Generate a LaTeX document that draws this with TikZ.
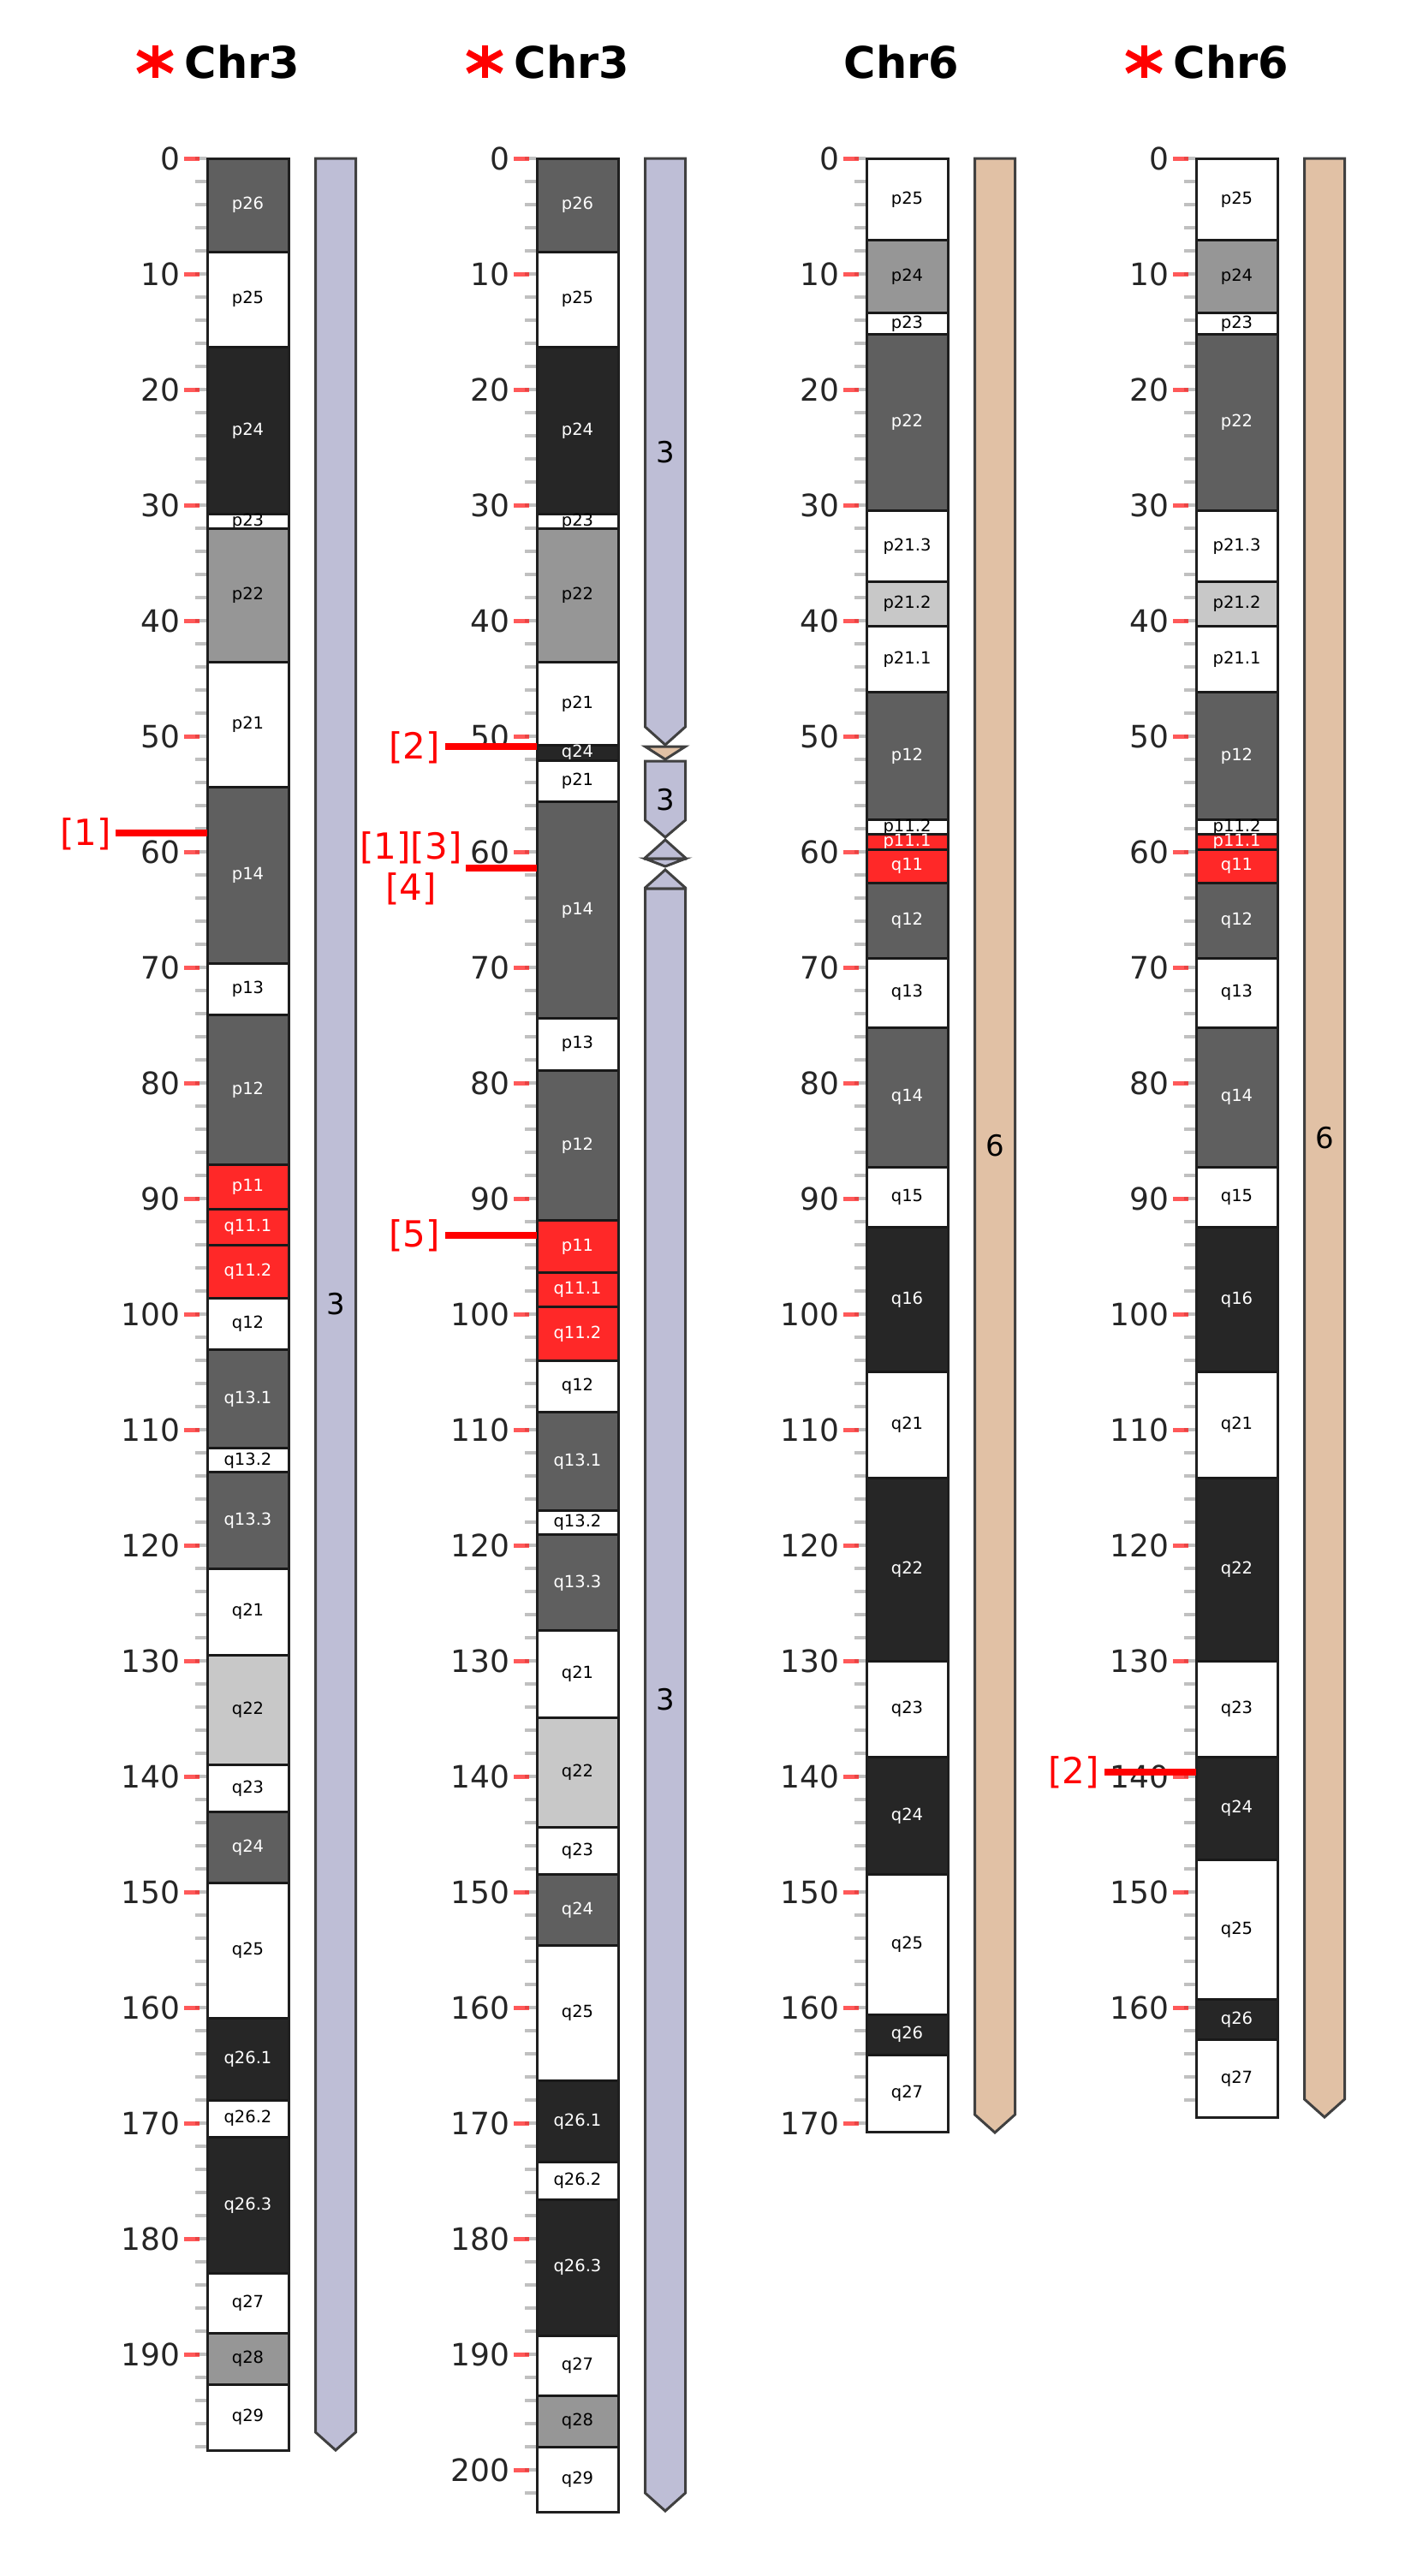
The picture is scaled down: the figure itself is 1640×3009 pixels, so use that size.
\documentclass[tikz,border=0pt]{standalone}
\usepackage{fontspec}
\setmainfont{DejaVu Sans}
\definecolor{gD}{RGB}{95,95,95}
\definecolor{gB}{RGB}{38,38,38}
\definecolor{gM}{RGB}{150,150,150}
\definecolor{gL}{RGB}{200,200,200}
\definecolor{acen}{RGB}{255,40,40}
\definecolor{lav}{RGB}{190,190,214}
\definecolor{tan6}{RGB}{225,193,165}
\definecolor{barstroke}{RGB}{64,64,64}
\definecolor{ticktxt}{RGB}{38,38,38}
\definecolor{minorgray}{RGB}{192,192,192}
\begin{document}
\begin{tikzpicture}[x=0.5pt,y=-0.5pt,
  bandrect/.style={draw=black!90,line width=1.5pt},
  boxline/.style={draw=black!88,line width=1.5pt},
  barline/.style={draw=barstroke,line width=1.5pt,line join=miter},
  bandlbl/.style={font=\fontsize{9.75pt}{10pt}\selectfont,inner sep=0pt},
  ticklbl/.style={font=\fontsize{18pt}{18pt}\selectfont,text=ticktxt,anchor=east,inner sep=0pt},
  minortick/.style={draw=minorgray,line width=2pt},
  majortick/.style={draw=red,opacity=0.65,line width=2.5pt},
  evline/.style={draw=red,line width=4pt},
  evlbl/.style={font=\fontsize{21pt}{24pt}\selectfont,text=red,inner sep=0pt},
  titlelbl/.style={font=\fontsize{25.5pt}{26pt}\selectfont\bfseries,inner sep=0pt,anchor=base},
  barlbl/.style={font=\fontsize{17pt}{17pt}\selectfont,inner sep=0pt},
  astk/.style={draw=red,line width=3.5pt}]
\useasboundingbox (0,0) rectangle (1640,3009);
\fill[white] (0,0) rectangle (1640,3009);

% ---------- titles ----------
\foreach \dx/\nm/\st [count=\i] in {0/Chr3/1,385/Chr3/1,770/Chr6/0,1155/Chr6/1}{
  \node[titlelbl] (T\i) at (283+\dx,91) {\nm};
  \ifnum\st=1
    \draw[astk] (181+\dx,53) -- (181+\dx,91);
    \draw[astk] (161+\dx,61) -- (201+\dx,83);
    \draw[astk] (161+\dx,83) -- (201+\dx,61);
  \fi
}

% ---------- ticks ----------
\foreach \dx/\len/\maj in {0/198/190,385/202/200,770/170/170,1155/168/160}{
  \foreach \v in {0,2,...,\len}{
    \draw[minortick] (228+\dx,{185+13.5*\v}) -- (241+\dx,{185+13.5*\v});
  }
  \foreach \v in {0,10,...,\maj}{
    \draw[majortick] (215+\dx,{185+13.5*\v}) -- (233+\dx,{185+13.5*\v});
    \node[ticklbl] at (211+\dx,{185+13.5*\v}) {\v};
  }
}

% ---------- panel 1 : Chr3 ----------
\def\dx{0}
\foreach \ya/\yb/\fc/\tc/\lb [count=\i] in {
0/8.1/gD/white/p26, 8.1/16.3/white/black/p25, 16.3/30.8/gB/white/p24,
30.8/32.0/white/black/p23, 32.0/43.6/gM/black/p22, 43.6/54.4/white/black/p21,
54.4/69.7/gD/white/p14, 69.7/74.1/white/black/p13, 74.1/87.1/gD/white/p12,
87.1/90.9/acen/white/p11, 90.9/94.0/acen/white/q11.1, 94.0/98.6/acen/white/q11.2,
98.6/103.1/white/black/q12, 103.1/111.6/gD/white/q13.1, 111.6/113.7/white/black/q13.2,
113.7/122.0/gD/white/q13.3, 122.0/129.5/white/black/q21, 129.5/139.0/gL/black/q22,
139.0/143.1/white/black/q23, 143.1/149.2/gD/white/q24, 149.2/160.9/white/black/q25,
160.9/168.0/gB/white/q26.1, 168.0/171.2/white/black/q26.2, 171.2/183.0/gB/white/q26.3,
183.0/188.2/white/black/q27, 188.2/192.6/gM/black/q28, 192.6/198.3/white/black/q29}{
  \draw[bandrect,fill=\fc] (242+\dx,{185+13.5*\ya}) rectangle (337+\dx,{185+13.5*\yb});
  \node[bandlbl,text=\tc] (Aa\i) at (289.5+\dx,{185+13.5*(\ya+\yb)/2}) {\lb};
}
\draw[boxline] (242,185) rectangle (337,{185+13.5*198.3});
\draw[barline,fill=lav] (368.5,185) -- (415.5,185) -- (415.5,2841) -- (392,2862) -- (368.5,2841) -- cycle;
\node[barlbl] (B1) at (392,1523) {3};

% ---------- panel 2 : derivative Chr3 ----------
\def\dx{385}
\foreach \ya/\yb/\fc/\tc/\lb [count=\i] in {
0/8.1/gD/white/p26, 8.1/16.3/white/black/p25, 16.3/30.8/gB/white/p24,
30.8/32.0/white/black/p23, 32.0/43.6/gM/black/p22, 43.6/50.8/white/black/p21,
50.8/52.1/gB/white/q24, 52.1/55.7/white/black/p21, 55.7/74.4/gD/white/p14,
74.4/78.9/white/black/p13, 78.9/91.9/gD/white/p12, 91.9/96.4/acen/white/p11,
96.4/99.4/acen/white/q11.1, 99.4/104.0/acen/white/q11.2, 104.0/108.5/white/black/q12,
108.5/117.0/gD/white/q13.1, 117.0/119.1/white/black/q13.2, 119.1/127.4/gD/white/q13.3,
127.4/134.9/white/black/q21, 134.9/144.4/gL/black/q22, 144.4/148.5/white/black/q23,
148.5/154.6/gD/white/q24, 154.6/166.3/white/black/q25, 166.3/173.4/gB/white/q26.1,
173.4/176.6/white/black/q26.2, 176.6/188.4/gB/white/q26.3, 188.4/193.6/white/black/q27,
193.6/198.0/gM/black/q28, 198.0/203.7/white/black/q29}{
  \draw[bandrect,fill=\fc] (242+\dx,{185+13.5*\ya}) rectangle (337+\dx,{185+13.5*\yb});
  \node[bandlbl,text=\tc] (Ab\i) at (289.5+\dx,{185+13.5*(\ya+\yb)/2}) {\lb};
}
\draw[boxline] (627,185) rectangle (722,{185+13.5*203.7});
% bar segments
\draw[barline,fill=lav] (753.5,185) -- (800.5,185) -- (800.5,849) -- (777,870) -- (753.5,849) -- cycle;
\draw[barline,fill=tan6] (753.5,872) -- (800.5,872) -- (777,887) -- cycle;
\draw[barline,fill=lav] (753.5,889) -- (800.5,889) -- (800.5,958) -- (777,978) -- (753.5,958) -- cycle;
\draw[barline,fill=lav] (777,981) -- (800.5,1002) -- (800.5,1003) -- (753.5,1003) -- (753.5,1002) -- cycle;
\draw[barline,fill=lav] (753.5,1003) -- (800.5,1003) -- (777,1012) -- cycle;
\draw[barline,fill=lav] (777,1016) -- (800.5,1037) -- (800.5,1038) -- (753.5,1038) -- (753.5,1037) -- cycle;
\draw[barline,fill=lav] (753.5,1038) -- (800.5,1038) -- (800.5,2912) -- (777,2933) -- (753.5,2912) -- cycle;
\node[barlbl] (B2a) at (777,528) {3};
\node[barlbl] (B2b) at (777,934) {3};
\node[barlbl] (B2c) at (777,1985) {3};

% ---------- panel 3 : Chr6 ----------
\def\dx{770}
\foreach \ya/\yb/\fc/\tc/\lb [count=\i] in {
0/7.1/white/black/p25, 7.1/13.4/gM/black/p24, 13.4/15.2/white/black/p23,
15.2/30.5/gD/white/p22, 30.5/36.6/white/black/p21.3, 36.6/40.5/gL/black/p21.2,
40.5/46.2/white/black/p21.1, 46.2/57.2/gD/white/p12, 57.2/58.5/white/black/p11.2,
58.5/59.8/acen/white/p11.1, 59.8/62.7/acen/white/q11, 62.7/69.2/gD/white/q12,
69.2/75.2/white/black/q13, 75.2/87.3/gD/white/q14, 87.3/92.5/white/black/q15,
92.5/105.0/gB/white/q16, 105.0/114.2/white/black/q21, 114.2/130.0/gB/white/q22,
130.0/138.3/white/black/q23, 138.3/148.5/gB/white/q24, 148.5/160.6/white/black/q25,
160.6/164.1/gB/white/q26, 164.1/170.8/white/black/q27}{
  \draw[bandrect,fill=\fc] (242+\dx,{185+13.5*\ya}) rectangle (337+\dx,{185+13.5*\yb});
  \node[bandlbl,text=\tc] (Ac\i) at (289.5+\dx,{185+13.5*(\ya+\yb)/2}) {\lb};
}
\draw[boxline] (1012,185) rectangle (1107,{185+13.5*170.8});
\draw[barline,fill=tan6] (1138.5,185) -- (1185.5,185) -- (1185.5,2470) -- (1162,2491) -- (1138.5,2470) -- cycle;
\node[barlbl] (B3) at (1162,1338) {6};

% ---------- panel 4 : derivative Chr6 ----------
\def\dx{1155}
\foreach \ya/\yb/\fc/\tc/\lb [count=\i] in {
0/7.1/white/black/p25, 7.1/13.4/gM/black/p24, 13.4/15.2/white/black/p23,
15.2/30.5/gD/white/p22, 30.5/36.6/white/black/p21.3, 36.6/40.5/gL/black/p21.2,
40.5/46.2/white/black/p21.1, 46.2/57.2/gD/white/p12, 57.2/58.5/white/black/p11.2,
58.5/59.8/acen/white/p11.1, 59.8/62.7/acen/white/q11, 62.7/69.2/gD/white/q12,
69.2/75.2/white/black/q13, 75.2/87.3/gD/white/q14, 87.3/92.5/white/black/q15,
92.5/105.0/gB/white/q16, 105.0/114.2/white/black/q21, 114.2/130.0/gB/white/q22,
130.0/138.3/white/black/q23, 138.3/147.2/gB/white/q24, 147.2/159.3/white/black/q25,
159.3/162.8/gB/white/q26, 162.8/169.5/white/black/q27}{
  \draw[bandrect,fill=\fc] (242+\dx,{185+13.5*\ya}) rectangle (337+\dx,{185+13.5*\yb});
  \node[bandlbl,text=\tc] (Ad\i) at (289.5+\dx,{185+13.5*(\ya+\yb)/2}) {\lb};
}
\draw[boxline] (1397,185) rectangle (1492,{185+13.5*169.5});
\draw[barline,fill=tan6] (1523.5,185) -- (1570.5,185) -- (1570.5,2452) -- (1547,2473) -- (1523.5,2452) -- cycle;
\node[barlbl] (B4) at (1547,1329) {6};

% ---------- breakpoint markers ----------
\node[evlbl,anchor=east] (E1) at (130,974) {[1]};
\coordinate (E1s) at (135,973); \coordinate (E1e) at (242,973);
\draw[evline] (E1s) -- (E1e);

\node[evlbl,anchor=east] (E2) at (514,873) {[2]};
\coordinate (E2s) at (520,872); \coordinate (E2e) at (627,872);
\draw[evline] (E2s) -- (E2e);

\node[evlbl,align=center] (E134) at (480,1014) {[1][3]\\{}[4]};
\coordinate (E134s) at (544,1014); \coordinate (E134e) at (627,1014);
\draw[evline] (E134s) -- (E134e);

\node[evlbl,anchor=east] (E5) at (514,1443) {[5]};
\coordinate (E5s) at (520,1443); \coordinate (E5e) at (627,1443);
\draw[evline] (E5s) -- (E5e);

\node[evlbl,anchor=east] (E2b) at (1284,2070) {[2]};
\coordinate (E2bs) at (1290,2070); \coordinate (E2be) at (1397,2070);
\draw[evline] (E2bs) -- (E2be);
\end{tikzpicture}
\end{document}
